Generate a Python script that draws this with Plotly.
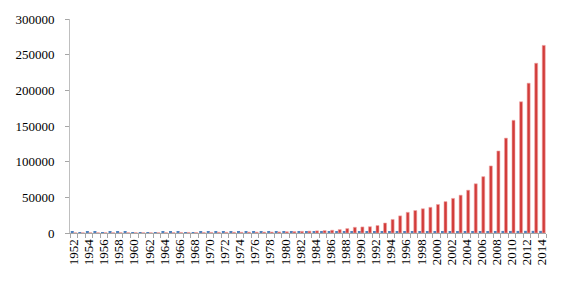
import plotly.graph_objects as go

years = list(range(1952, 2015))

red_values = [
    300, 350, 400, 400, 450, 500, 550, 500, 500, 450, 400, 450, 500, 600,
    800, 800, 700, 800, 900, 1000, 1000, 1100, 1100, 1200, 1200, 1300, 1400, 1500,
    1800, 2000, 2300, 2600, 3000, 3400, 3900, 4800, 6200, 8000,
    8500, 8800, 10500, 14000, 19000, 24000, 29000, 31500, 34000, 36000,
    40000, 44000, 48500, 53000, 60000, 69000, 79000, 94000, 115000, 133000,
    158000, 184000, 210000, 238000, 263000,
]

blue_values = [
    1500, 1400, 1500, 1500, 1400, 1500, 1600, 1500, 1400, 1300, 1300, 1400, 1500, 1500,
    1500, 1400, 1400, 1500, 1500, 1600, 1600, 1600, 1700, 1700, 1700, 1800, 1800, 1800,
    1900, 1900, 2000, 2000, 2000, 2100, 2100, 2200, 2200, 2200,
    2300, 2300, 2300, 2400, 2400, 2400, 2500, 2500, 2500, 2500,
    2600, 2600, 2600, 2700, 2700, 2700, 2800, 2800, 2800, 2900, 2900,
    2900, 3000, 3000, 3000,
]

tick_years = list(range(1952, 2015, 2))

fig = go.Figure()
fig.add_trace(go.Bar(x=years, y=blue_values, marker=dict(color="#4F81BD", line=dict(width=0))))
fig.add_trace(go.Bar(x=years, y=red_values,
                     marker=dict(color="#D23C3A", line=dict(color="#F0A8A8", width=0.6))))

font = dict(family="'Liberation Serif', 'Times New Roman', serif", size=13, color="#000000")

fig.update_layout(
    width=562, height=289,
    margin=dict(l=70, r=16, t=15, b=56),
    paper_bgcolor="white", plot_bgcolor="white",
    showlegend=False,
    barmode="group", bargap=0.2, bargroupgap=0,
    font=font,
)
fig.update_xaxes(
    range=[1951.5, 2014.5],
    tickmode="array", tickvals=tick_years, ticktext=[str(y) for y in tick_years],
    tickangle=-90, ticks="", showgrid=False, zeroline=False,
    showline=True, linecolor="#A6A6A6", linewidth=1,
    minor=dict(ticks="outside", tick0=1951.5, dtick=1, ticklen=4, tickcolor="#A6A6A6", showgrid=False),
    tickfont=font,
)
fig.update_yaxes(
    range=[0, 300000], dtick=50000, tickformat="d",
    ticks="outside", ticklen=4, tickcolor="#A6A6A6",
    ticklabelstandoff=8,
    showgrid=False, zeroline=False,
    showline=True, linecolor="#BFBFBF", linewidth=1,
    tickfont=font,
)

fig.write_html("out.html")
